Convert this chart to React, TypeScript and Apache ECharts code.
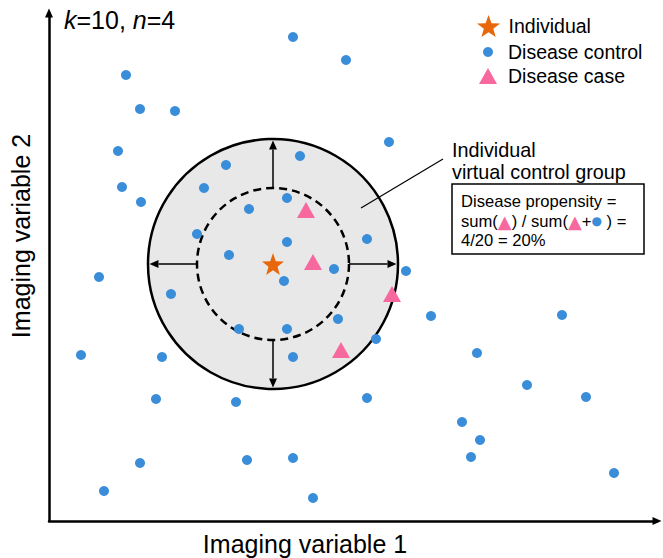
import React, { useEffect, useRef } from "react";
import * as echarts from "echarts";

// Data coordinates: 1 unit = 1 pixel of the plot area (origin at the axes' corner)
const controlPoints: [number, number][] = [
  [244, 484], [297, 461], [77, 446], [91, 412], [126, 410], [340, 379], [69, 370],
  [177, 356], [251, 365], [73, 334], [155, 333], [92, 319], [200, 312], [238, 323],
  [148, 287], [318, 282], [180, 266], [238, 279], [285, 252], [235, 240], [357, 250],
  [50, 244], [122, 227], [289, 202], [190, 192], [238, 192], [327, 182], [244, 164],
  [113, 164], [382, 205], [513, 206], [32, 166], [428, 168], [478, 136], [537, 124],
  [318, 123], [107, 122], [187, 119], [413, 99], [431, 81], [422, 64], [91, 58],
  [198, 61], [244, 63], [565, 48], [55, 30], [264, 23],
];
const casePoints: [number, number][] = [
  [257, 311], [264, 259], [343, 227], [292, 171],
];
const individualPoints: [number, number][] = [[224, 257]];
// [centerX, centerY, outerRadius, innerRadius]
const neighbourhood: number[][] = [[224, 257, 125, 76]];

const seriesNames = ["Individual", "Disease control", "Disease case"];
const cornerLabel = "{i|k}=10, {i|n}=4";
const xAxisLabel = "Imaging variable 1";
const yAxisLabel = "Imaging variable 2";
const groupLabel = "Individual\nvirtual control group";
const propensityText = "Disease propensity =\nsum({t|▲}) / sum({t|▲}+{d|●} ) =\n4/20 = 20%";

const BLUE = "#3a8dd8";
const PINK = "#f7689e";
const ORANGE = "#e8670c";
const FONT = "Liberation Sans, Arial, sans-serif";

function starPath(): string {
  const pts: string[] = [];
  const R = 10;
  const r = 4.1;
  for (let i = 0; i < 10; i++) {
    const rad = i % 2 === 0 ? R : r;
    const a = -Math.PI / 2 + (i * Math.PI) / 5;
    const x = 10 + rad * Math.cos(a);
    const y = 10 + rad * Math.sin(a);
    pts.push(`${i === 0 ? "M" : "L"}${x.toFixed(3)} ${y.toFixed(3)}`);
  }
  return "path://" + pts.join(" ") + " Z";
}

export default function App() {
  const ref = useRef<HTMLDivElement>(null);
  useEffect(() => {
    if (!ref.current) return;
    const chart = echarts.init(ref.current, null, { renderer: "svg" });
    const star = starPath();
    const axisCommon = {
      type: "value" as const,
      axisLine: {
        show: true,
        onZero: false,
        symbol: ["none", "triangle"],
        symbolSize: [8, 9],
        lineStyle: { color: "#000", width: 2.5 },
      },
      axisTick: { show: false },
      axisLabel: { show: false },
      splitLine: { show: false },
    };
    const legendText = { fontSize: 19.5, color: "#000", fontFamily: FONT };
    chart.setOption({
      animation: false,
      backgroundColor: "#fff",
      textStyle: { fontFamily: FONT },
      title: {
        text: cornerLabel,
        left: 64,
        top: 7,
        padding: 0,
        textStyle: {
          fontSize: 25,
          fontWeight: "normal",
          color: "#000",
          fontFamily: FONT,
          rich: { i: { fontStyle: "italic", fontSize: 25, fontFamily: FONT, color: "#000" } },
        },
      },
      grid: { left: 49, right: 6, top: 13, bottom: 37 },
      xAxis: { ...axisCommon, min: 0, max: 608 },
      yAxis: { ...axisCommon, min: 0, max: 508 },
      legend: [
        {
          data: [seriesNames[0]], left: 477, top: 15, itemWidth: 30, itemHeight: 22,
          selectedMode: false, padding: 0, textStyle: legendText,
        },
        {
          data: [seriesNames[1]], left: 483, top: 42, itemWidth: 30, itemHeight: 10,
          selectedMode: false, padding: 0, textStyle: legendText,
        },
        {
          data: [{ name: seriesNames[2], icon: "path://M0 16 L9 0 L18 16 Z" }],
          left: 479, top: 66, itemWidth: 30, itemHeight: 16,
          selectedMode: false, padding: 0, textStyle: legendText,
        },
      ],
      series: [
        {
          type: "custom",
          name: "neighbourhood",
          data: neighbourhood,
          encode: { x: 0, y: 1 },
          clip: false,
          silent: true,
          z: 1,
          renderItem: (params: any, api: any) => {
            const c = api.coord([api.value(0), api.value(1)]);
            const ro = api.size([api.value(2), 0])[0];
            const ri = api.size([api.value(3), 0])[0];
            const children: any[] = [
              {
                type: "circle",
                shape: { cx: c[0], cy: c[1], r: ro },
                style: { fill: "#e8e8e8", stroke: "#000", lineWidth: 2.5 },
              },
              {
                type: "circle",
                shape: { cx: c[0], cy: c[1], r: ri },
                style: { fill: "none", stroke: "#000", lineWidth: 2.5, lineDash: [8, 5] },
              },
            ];
            const dirs = [[0, -1], [1, 0], [0, 1], [-1, 0]];
            dirs.forEach(([dx, dy]) => {
              const x1 = c[0] + dx * ri;
              const y1 = c[1] + dy * ri;
              const x2 = c[0] + dx * (ro - 1.5);
              const y2 = c[1] + dy * (ro - 1.5);
              const head = 9;
              const half = 4;
              const bx = x2 - dx * head;
              const by = y2 - dy * head;
              children.push({
                type: "line",
                shape: { x1, y1, x2: bx, y2: by },
                style: { stroke: "#000", lineWidth: 1.5 },
              });
              children.push({
                type: "polygon",
                shape: {
                  points: [
                    [x2, y2],
                    [bx - dy * half, by + dx * half],
                    [bx + dy * half, by - dx * half],
                  ],
                },
                style: { fill: "#000" },
              });
            });
            return { type: "group", children };
          },
        },
        {
          type: "scatter",
          name: seriesNames[1],
          data: controlPoints,
          symbol: "circle",
          symbolSize: 10,
          itemStyle: { color: BLUE, opacity: 1 },
          z: 3,
        },
        {
          type: "scatter",
          name: seriesNames[2],
          data: casePoints,
          symbol: "triangle",
          symbolSize: [18, 16],
          itemStyle: { color: PINK, opacity: 1 },
          z: 3,
        },
        {
          type: "scatter",
          name: seriesNames[0],
          data: individualPoints,
          symbol: star,
          symbolSize: 22,
          itemStyle: { color: ORANGE, opacity: 1 },
          z: 4,
        },
      ],
      graphic: [
        {
          type: "line",
          shape: { x1: 361, y1: 208, x2: 443, y2: 159 },
          style: { stroke: "#000", lineWidth: 1.2 },
          z: 10,
        },
        {
          type: "text",
          x: 452,
          y: 139,
          style: {
            text: groupLabel,
            fontSize: 19.8,
            lineHeight: 22,
            fontFamily: FONT,
            fill: "#000",
          },
        },
        {
          type: "rect",
          shape: { x: 452, y: 184, width: 192, height: 70 },
          style: { fill: "#fff", stroke: "#000", lineWidth: 1.5 },
        },
        {
          type: "text",
          x: 461,
          y: 192,
          style: {
            text: propensityText,
            fontSize: 16.6,
            lineHeight: 19.5,
            fontFamily: FONT,
            fill: "#000",
            rich: {
              t: { fill: PINK, fontSize: 18, lineHeight: 19.5, fontFamily: "DejaVu Sans" },
              d: { fill: BLUE, fontSize: 12, lineHeight: 19.5, fontFamily: "DejaVu Sans" },
            },
          },
        },
        {
          type: "text",
          x: 305,
          y: 544,
          style: {
            text: xAxisLabel,
            fontSize: 25,
            fontFamily: FONT,
            fill: "#000",
            align: "center",
            verticalAlign: "middle",
          },
        },
        {
          type: "text",
          x: 21,
          y: 236,
          rotation: Math.PI / 2,
          style: {
            text: yAxisLabel,
            fontSize: 25,
            fontFamily: FONT,
            fill: "#000",
            align: "center",
            verticalAlign: "middle",
          },
        },
      ],
    });
    return () => chart.dispose();
  }, []);
  return (
    <div
      ref={ref}
      style={{ position: "absolute", left: 0, top: 0, width: 663, height: 558 }}
    />
  );
}
